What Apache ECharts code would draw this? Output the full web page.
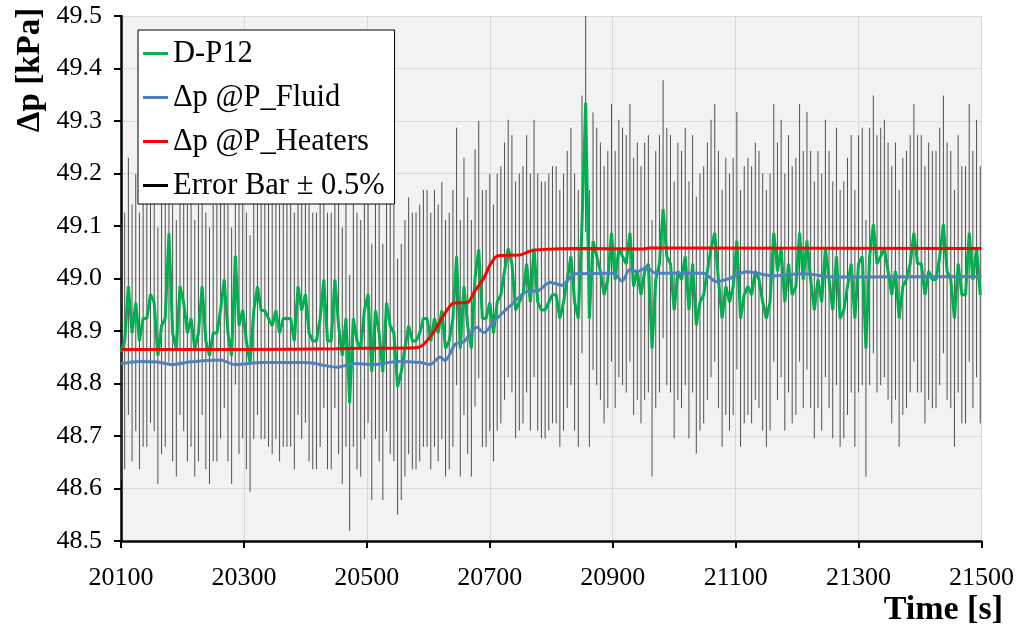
<!DOCTYPE html>
<html>
<head>
<meta charset="utf-8">
<script src="https://cdn.jsdelivr.net/npm/echarts@6/dist/echarts.min.js"></script>
<style>
html,body{margin:0;padding:0;background:#fff;}
#chart{width:1017px;height:630px;}
</style>
</head>
<body>
<div id="chart"></div>
<script>
// ---- data ----
const TIME_START = 20100;   // first D-P12 sample [s]
const TIME_STEP = 6;        // D-P12 sample spacing [s]
const ERROR_FRACTION = 0.005; // ±0.5 %

const dp12Values = [
  48.860, 48.881, 48.985, 48.896, 48.954, 48.881, 48.924, 48.924, 48.970, 48.954,
  48.853, 48.910, 48.924, 49.086, 48.896, 48.867, 48.985, 48.954, 48.896, 48.924,
  48.867, 48.896, 48.985, 48.881, 48.853, 48.896, 48.896, 48.940, 48.998, 48.896,
  48.853, 49.043, 48.910, 48.940,
  48.881, 48.838, 48.939, 48.985, 48.939, 48.939, 48.924, 48.910, 48.939, 48.896,
  48.924, 48.924, 48.924, 48.881, 48.985, 48.939, 48.970, 48.896, 48.881, 48.881,
  48.924, 48.998, 48.881, 48.881, 48.998, 48.910, 48.853, 48.924, 48.763, 48.924,
  48.881, 48.867, 48.939, 48.970,
  48.822, 48.939, 48.896, 48.822, 48.954, 48.910, 48.896, 48.794, 48.822, 48.867,
  48.910, 48.881, 48.881, 48.896, 48.924, 48.924, 48.881, 48.924, 48.896, 48.939,
  48.867, 48.881, 48.924, 49.042, 48.867, 48.985, 48.910, 48.867, 49.001, 49.055,
  48.924, 48.924, 48.954,
  48.896, 48.955, 48.969, 49.014, 49.057, 49.028, 48.940, 48.955, 48.969, 49.028,
  48.955, 49.057, 48.955, 48.940, 48.940, 48.955, 48.969, 48.969, 48.924, 48.955,
  48.998, 49.042, 48.955, 48.924, 49.103, 49.335, 48.924, 49.071, 49.042, 49.014,
  48.969, 48.998, 49.087, 48.998,
  49.057, 49.042, 49.028, 49.087, 48.985, 49.014, 48.969, 49.014, 49.028, 48.867,
  48.998, 49.028, 49.132, 49.042, 49.028, 48.940, 49.014, 48.998, 49.042, 48.940,
  49.028, 48.911, 48.955, 48.969, 49.014, 49.057, 49.087, 48.998, 48.924, 48.985,
  48.955, 48.985, 49.072, 48.924,
  48.969, 48.985, 48.969, 49.014, 48.998, 48.955, 48.924, 48.955, 49.087, 49.014,
  49.057, 48.955, 49.028, 48.969, 48.985, 49.087, 48.998, 49.072, 48.998, 48.940,
  48.998, 48.955, 49.057, 48.998, 48.940, 49.042, 48.924, 48.940, 48.985, 49.028,
  48.924, 49.028, 49.042,
  48.867, 49.042, 49.103, 49.028, 49.042, 49.057, 49.014, 48.969, 49.014, 48.924,
  48.985, 48.998, 49.028, 49.087, 49.028, 49.028, 48.969, 49.014, 48.998, 48.998,
  49.042, 49.103, 49.014, 48.998, 48.924, 49.028, 48.969, 48.969, 49.087, 48.998,
  49.057, 48.969
];

const fluidTime = [20100, 20130, 20160, 20183, 20210, 20262, 20285, 20330, 20400, 20452,
  20480, 20510, 20550, 20587, 20603, 20619, 20627, 20644, 20657, 20679,
  20690, 20709, 20735, 20760, 20779, 20798, 20817, 20839, 20901, 20915,
  20928, 20940, 20955, 20970, 21047, 21069, 21090, 21118, 21161, 21210,
  21259, 21500];
const fluidValues = [48.838, 48.842, 48.841, 48.836, 48.841, 48.845, 48.836, 48.840, 48.840, 48.831,
  48.838, 48.836, 48.842, 48.840, 48.836, 48.850, 48.844, 48.875, 48.879, 48.907,
  48.897, 48.921, 48.950, 48.975, 48.977, 48.993, 48.987, 49.009, 49.010, 48.995,
  49.017, 49.013, 49.021, 49.010, 49.010, 48.994, 49.000, 49.013, 49.005, 49.009,
  49.003, 49.004];

const heatersTime = [20100, 20300, 20450, 20500, 20580, 20590, 20610, 20625, 20640, 20665,
  20675, 20690, 20700, 20712, 20750, 20765, 20780, 20850, 20950, 20960, 21500];
const heatersValues = [48.865, 48.865, 48.866, 48.867, 48.868, 48.872, 48.900, 48.930, 48.953, 48.955,
  48.975, 49.000, 49.025, 49.043, 49.045, 49.052, 49.055, 49.057, 49.056, 49.058, 49.057];

const xTickLabels = ['20100', '20300', '20500', '20700', '20900', '21100', '21300', '21500'];
const X_MIN = 20100, X_MAX = 21500, X_STEP = 200;

// ---- build series data (x offset so ticks start exactly at 20100) ----
const off = t => t - X_MIN;
const dp12Data = dp12Values.map((v, i) => [off(TIME_START + i * TIME_STEP), v]);
const fluidData = fluidTime.map((t, i) => [off(t), fluidValues[i]]);
const heatersData = heatersTime.map((t, i) => [off(t), heatersValues[i]]);

const FONT = 'Liberation Serif, Times New Roman, serif';

const chart = echarts.init(document.getElementById('chart'), null, {renderer: 'canvas'});
chart.setOption({
  animation: false,
  backgroundColor: '#ffffff',
  grid: {left: 121, right: 35, top: 16, bottom: 89, show: true, backgroundColor: '#f2f2f2', borderWidth: 0},
  legend: {
    data: ['D-P12', 'Δp @P_Fluid', 'Δp @P_Heaters', 'Error Bar ± 0.5%'],
    orient: 'vertical', left: 138, top: 30,
    backgroundColor: '#ffffff', borderColor: '#000', borderWidth: 1, borderRadius: 0,
    padding: [8, 10, 3, 5],
    itemWidth: 25, itemHeight: 3, itemGap: 13, icon: 'rect',
    textStyle: {fontFamily: FONT, fontSize: 30.5, color: '#000', lineHeight: 30}
  },
  xAxis: {
    type: 'value', min: 0, max: X_MAX - X_MIN, interval: X_STEP,
    axisLine: {show: true, lineStyle: {color: '#000', width: 2.5}},
    axisTick: {show: true, inside: false, length: 7, lineStyle: {color: '#000', width: 2}},
    axisLabel: {
      margin: 24, color: '#000', fontFamily: FONT, fontSize: 26,
      formatter: v => xTickLabels[Math.round(v / X_STEP)] || ''
    },
    splitLine: {show: true, lineStyle: {color: '#d9d9d9', width: 1}}
  },
  yAxis: {
    type: 'value', min: 48.5, max: 49.5, interval: 0.1,
    axisLine: {show: true, lineStyle: {color: '#000', width: 2.5}},
    axisTick: {show: true, inside: false, length: 7, lineStyle: {color: '#000', width: 2}},
    axisLabel: {margin: 19, color: '#000', fontFamily: FONT, fontSize: 26, formatter: v => v.toFixed(1)},
    splitLine: {show: true, lineStyle: {color: '#d9d9d9', width: 1}}
  },
  graphic: [
    {type: 'text', x: 30, y: 70, rotation: Math.PI / 2,
     style: {text: 'Δp [kPa]', font: 'bold 33px ' + FONT, fill: '#000', align: 'center', verticalAlign: 'middle'}},
    {type: 'text', x: 1003, y: 610,
     style: {text: 'Time [s]', font: 'bold 34px ' + FONT, fill: '#000', align: 'right', verticalAlign: 'middle'}}
  ],
  series: [
    {
      name: 'Error Bar ± 0.5%', type: 'custom', clip: true,
      itemStyle: {color: '#000'},
      encode: {x: 0, y: 1},
      data: dp12Data,
      renderItem: function (params, api) {
        const x = api.value(0), v = api.value(1);
        const a = api.coord([x, v * (1 - ERROR_FRACTION)]);
        const b = api.coord([x, v * (1 + ERROR_FRACTION)]);
        return {type: 'line', shape: {x1: a[0], y1: a[1], x2: b[0], y2: b[1]},
                style: {stroke: '#505050', lineWidth: 1}};
      }
    },
    {name: 'D-P12', type: 'line', data: dp12Data, showSymbol: false, color: '#00b050',
     lineStyle: {color: '#00b050', width: 3}},
    {name: 'Δp @P_Fluid', type: 'line', data: fluidData, showSymbol: false, smooth: 0.3, color: '#4f81bd',
     lineStyle: {color: '#4f81bd', width: 3}},
    {name: 'Δp @P_Heaters', type: 'line', data: heatersData, showSymbol: false, smooth: 0.2, color: '#ff0000',
     lineStyle: {color: '#ff0000', width: 3}}
  ]
});
</script>
</body>
</html>
